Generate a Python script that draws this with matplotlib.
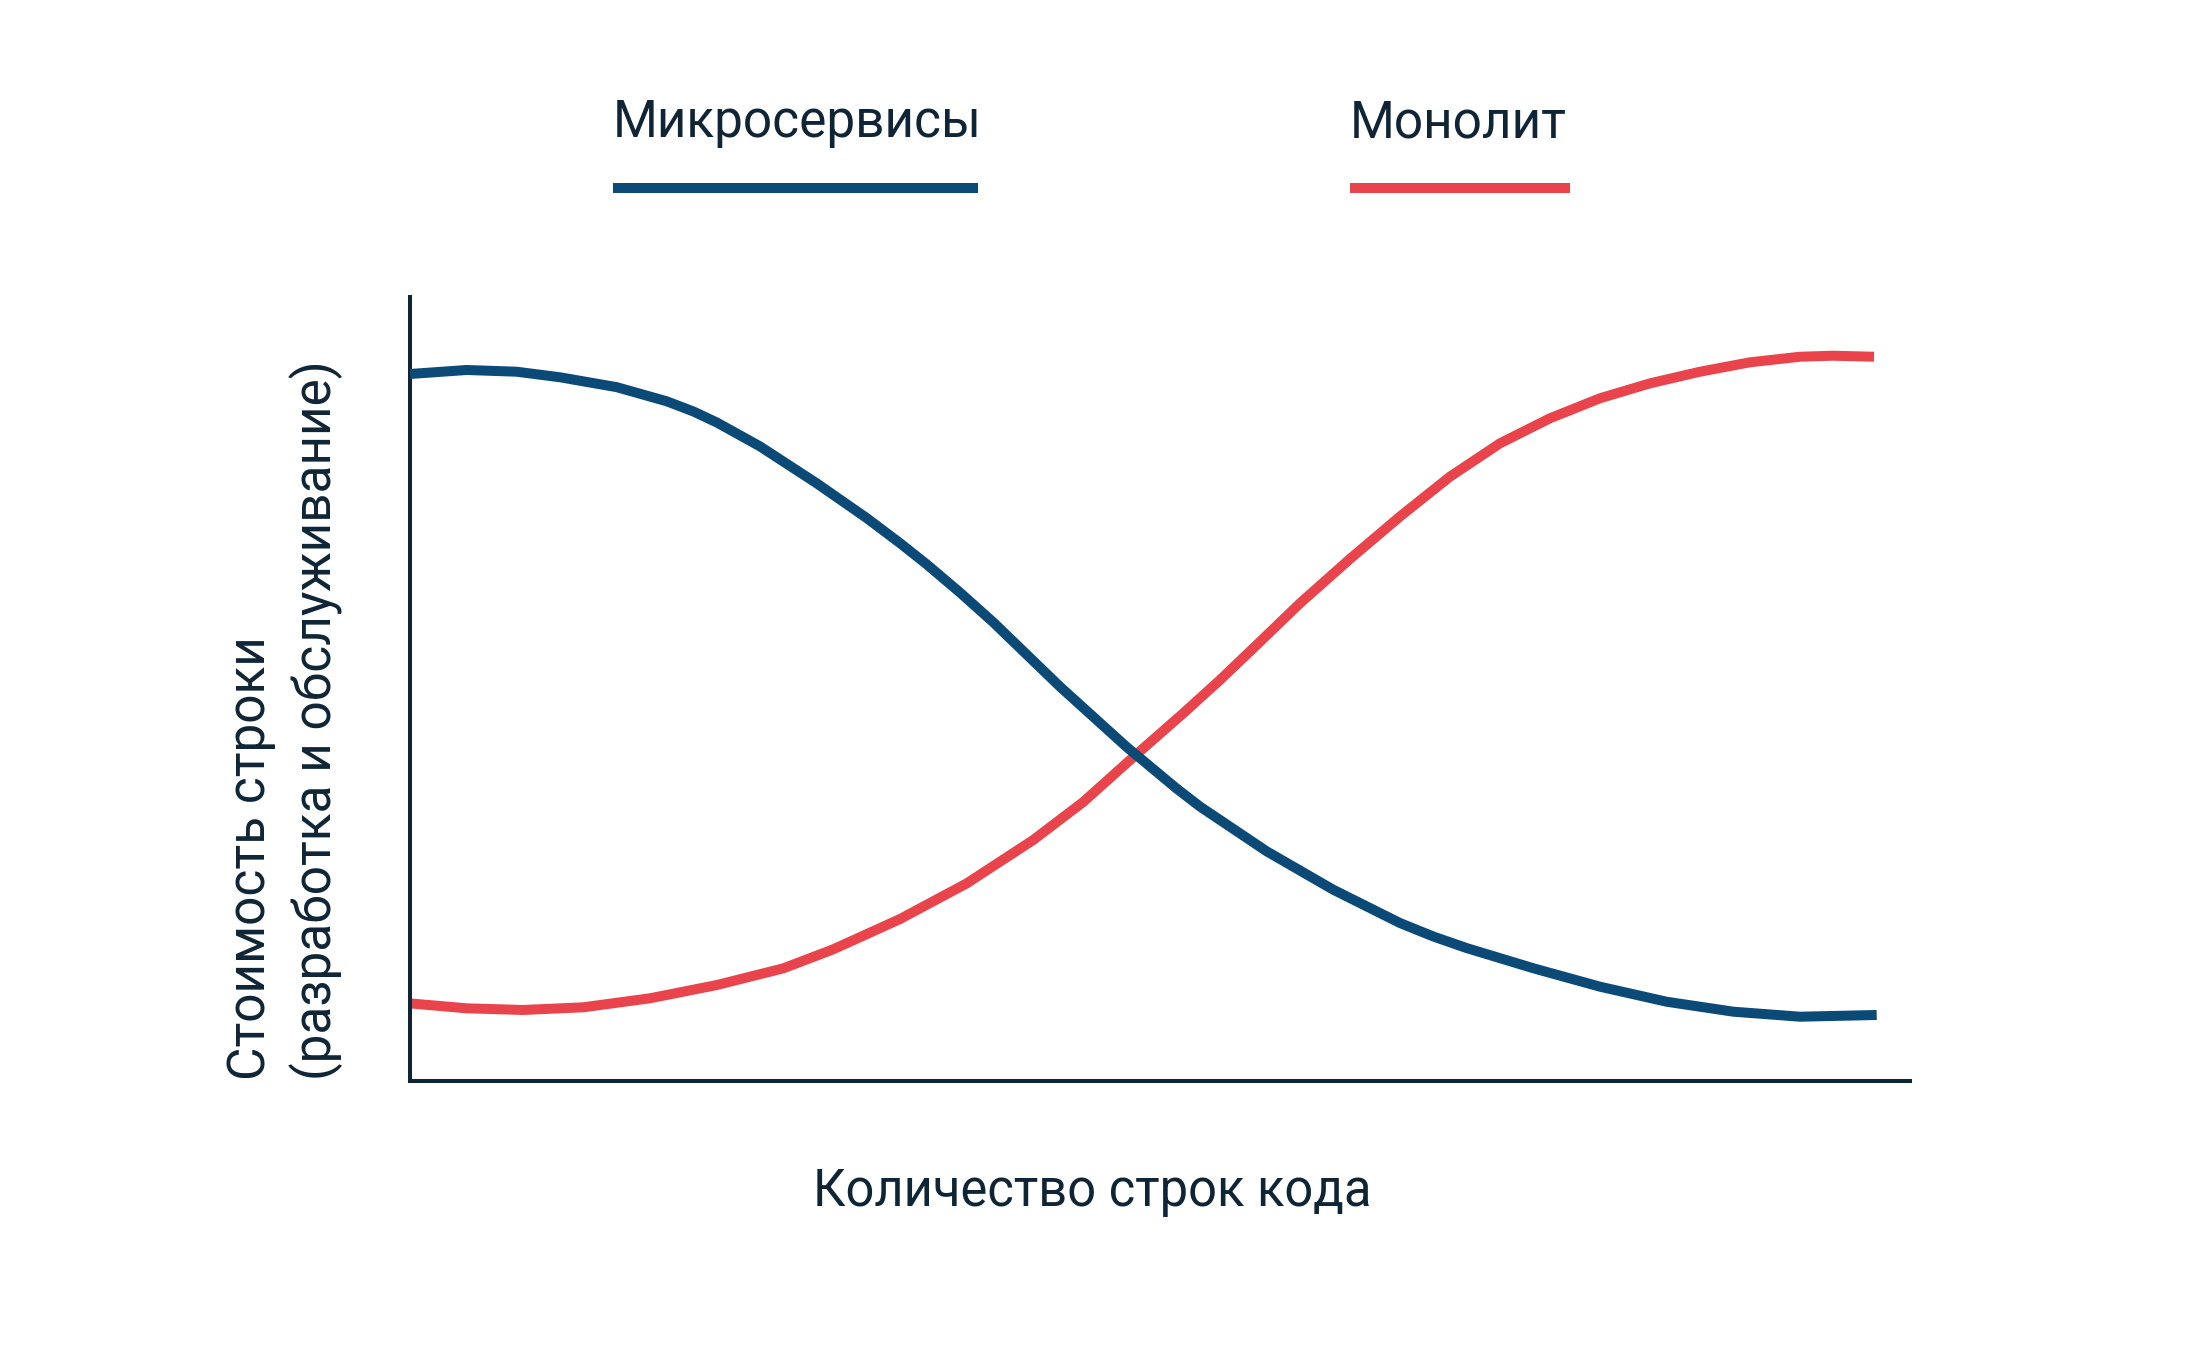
import matplotlib.pyplot as plt
from matplotlib.lines import Line2D

plt.rcParams['font.family'] = ['Roboto', 'DejaVu Sans']

# данные (x и y в условных единицах 0..100)
series = ['Микросервисы', 'Монолит']
x_micro = [0, 3.78, 7.11, 10.0, 13.78, 17.11, 18.89, 20.45, 23.33, 27.11,
           30.45, 32.67, 34.45, 36.67, 38.89, 43.33, 47.78, 51.11, 52.67, 57.11,
           61.55, 66.0, 68.2, 70.45, 74.89, 79.33, 83.78, 88.22, 92.67, 97.78]
y_micro = [90.18, 90.69, 90.47, 89.76, 88.5, 86.7, 85.4, 84.0, 80.95, 76.24,
           71.8, 68.6, 65.9, 62.3, 58.5, 50.3, 42.6, 37.3, 35.0, 29.3,
           24.4, 20.15, 18.45, 16.95, 14.38, 12.03, 10.11, 8.84, 8.2, 8.42]
x_mono = [0, 3.78, 7.55, 11.55, 16.0, 20.45, 24.89, 28.22, 32.67, 37.11,
          41.55, 44.89, 48.45, 51.55, 54.0, 56.67, 59.33, 62.67, 66.0, 69.33,
          72.67, 76.0, 79.33, 82.67, 86.0, 89.33, 92.67, 94.87, 97.6]
y_mono = [9.9, 9.27, 9.06, 9.40, 10.55, 12.24, 14.37, 16.8, 20.66, 25.2,
          30.74, 35.6, 41.7, 46.9, 51.15, 56.03, 60.93, 66.6, 72.0, 77.08,
          81.34, 84.53, 87.08, 88.99, 90.47, 91.67, 92.38, 92.51, 92.38]
xlabel = 'Количество строк кода'
ylabel = ['Стоимость строки', '(разработка и обслуживание)']

blue = '#0b4a76'
red = '#e9434b'
ink = '#0f2536'

W, H = 2186, 1360
fig = plt.figure(figsize=(W / 100, H / 100), dpi=100)
fig.patch.set_facecolor('white')

# оси: левый край 410px, низ 1081px, верх 297px, правый край 1910px
ax = fig.add_axes([410 / W, (H - 1081) / H, 1500 / W, (1081 - 297) / H])
ax.set_xlim(0, 100)
ax.set_ylim(0, 100)
for s in ['top', 'right']:
    ax.spines[s].set_visible(False)
for s in ['left', 'bottom']:
    ax.spines[s].set_linewidth(2.9)
    ax.spines[s].set_color(ink)
    ax.spines[s].set_capstyle('projecting')
ax.set_xticks([])
ax.set_yticks([])

ax.plot(x_mono, y_mono, color=red, lw=7.2, solid_capstyle='butt', solid_joinstyle='round',
        clip_on=False, zorder=2)
ax.plot(x_micro, y_micro, color=blue, lw=7.2, solid_capstyle='butt', solid_joinstyle='round',
        clip_on=False, zorder=3)

fs = 37
# легенда: подпись сверху, линия под ней
leg = [(series[0], blue, 613, 978), (series[1], red, 1350, 1570)]
for name, col, x0, x1 in leg:
    fig.text(x0 / W, 1 - 137 / H, name, fontsize=fs, color=ink, ha='left', va='baseline')
    fig.add_artist(Line2D([x0 / W, x1 / W], [1 - 188 / H, 1 - 188 / H],
                          transform=fig.transFigure, color=col, lw=7.2,
                          solid_capstyle='butt'))

fig.text(1092 / W, 1 - 1206 / H, xlabel, fontsize=36.5, color=ink, ha='center', va='baseline')

fig.text(265 / W, 1 - 1080 / H, ylabel[0], fontsize=fs, color=ink, rotation=90,
         rotation_mode='anchor', ha='left', va='baseline')
fig.text(331 / W, 1 - 1080 / H, ylabel[1], fontsize=fs, color=ink, rotation=90,
         rotation_mode='anchor', ha='left', va='baseline')

fig.savefig('out.png', dpi=100, facecolor='white')
